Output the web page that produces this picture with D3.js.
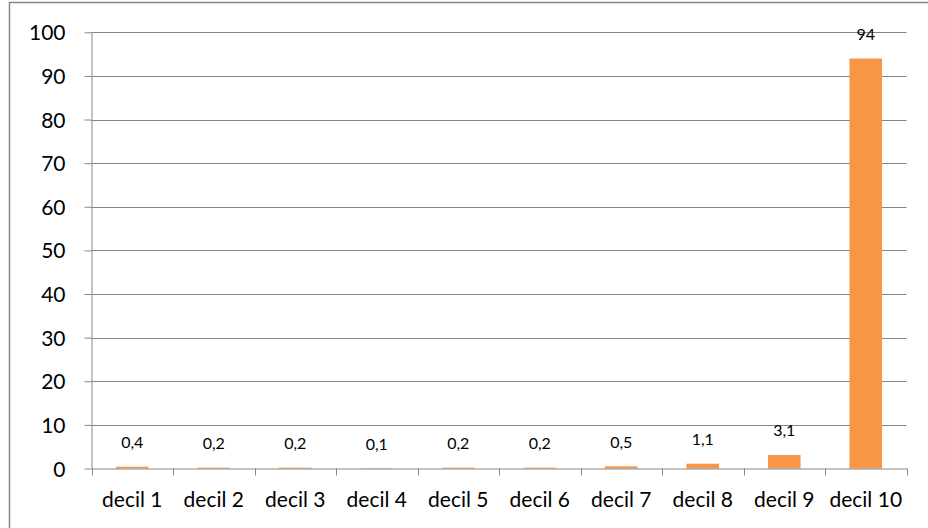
<!DOCTYPE html>
<html>
<head>
<meta charset="utf-8">
<script src="https://cdn.jsdelivr.net/npm/d3@7"></script>
<style>
  html, body { margin: 0; padding: 0; background: #fff; }
  svg { display: block; }
</style>
</head>
<body>
<svg id="chart" width="928" height="528"></svg>
<script>
const categories = ['decil 1', 'decil 2', 'decil 3', 'decil 4', 'decil 5',
                    'decil 6', 'decil 7', 'decil 8', 'decil 9', 'decil 10'];
const values = [0.4, 0.2, 0.2, 0.1, 0.2, 0.2, 0.5, 1.1, 3.1, 94];
const valueLabels = ['0,4', '0,2', '0,2', '0,1', '0,2', '0,2', '0,5', '1,1', '3,1', '94'];
const yTicks = [0, 10, 20, 30, 40, 50, 60, 70, 80, 90, 100];

const FONT = 'Lato, "Open Sans", sans-serif';
const GRID = '#868686';
const BAR = '#F79646';

const PLOT_LEFT = 91.5;
const PLOT_RIGHT = 906.5;
const PLOT_TOP = 32.3;
const PLOT_BOTTOM = 468.5;

const svg = d3.select('#chart');

// outer chart border (right and bottom run off the picture)
svg.append('rect')
    .attr('x', 9.5)
    .attr('y', 2.5)
    .attr('width', 940)
    .attr('height', 560)
    .attr('fill', 'none')
    .attr('stroke', GRID)
    .attr('stroke-width', 1.5);

const x = d3.scaleBand()
    .domain(categories)
    .range([PLOT_LEFT, PLOT_RIGHT])
    .paddingInner(0.6)
    .paddingOuter(0.3);

const xAxisScale = d3.scaleBand()
    .domain(categories)
    .range([PLOT_LEFT, PLOT_RIGHT]);

const y = d3.scaleLinear()
    .domain([0, 100])
    .range([PLOT_BOTTOM, PLOT_TOP]);

// gridlines
svg.append('g')
    .selectAll('line')
    .data(yTicks.filter(d => d > 0))
    .join('line')
    .attr('x1', PLOT_LEFT)
    .attr('x2', PLOT_RIGHT)
    .attr('y1', d => Math.round(y(d)) + 0.5)
    .attr('y2', d => Math.round(y(d)) + 0.5)
    .attr('stroke', GRID)
    .attr('stroke-width', 1);

// bars
svg.append('g')
    .selectAll('rect')
    .data(values)
    .join('rect')
    .attr('x', (d, i) => x(categories[i]))
    .attr('y', d => y(d))
    .attr('width', x.bandwidth())
    .attr('height', d => y(0) - y(d))
    .attr('fill', BAR);

// value labels
svg.append('g')
    .selectAll('text')
    .data(values)
    .join('text')
    .text((d, i) => valueLabels[i])
    .attr('x', (d, i) => x(categories[i]) + x.bandwidth() / 2)
    .attr('y', d => y(d) - 25)
    .attr('text-anchor', 'middle')
    .attr('dominant-baseline', 'central')
    .attr('font-family', FONT)
    .attr('font-size', 16)
    .attr('fill', '#000');

// y axis
const yAxis = svg.append('g')
    .attr('transform', `translate(${PLOT_LEFT},0)`)
    .call(d3.axisLeft(y).tickValues(yTicks).tickSize(7).tickPadding(19).tickSizeOuter(0));
yAxis.select('.domain').attr('stroke', GRID);
yAxis.selectAll('.tick line').attr('stroke', GRID);
yAxis.selectAll('.tick text')
    .attr('font-family', FONT)
    .attr('font-size', 21)
    .attr('fill', '#000')
    .attr('dy', '0.36em');

// x axis
const xAxis = svg.append('g')
    .attr('transform', `translate(0,${PLOT_BOTTOM})`)
    .call(d3.axisBottom(xAxisScale).tickSize(0).tickPadding(24));
xAxis.select('.domain').attr('stroke', GRID);
xAxis.selectAll('.tick text')
    .attr('font-family', FONT)
    .attr('font-size', 21)
    .attr('fill', '#000');

// category boundary ticks
svg.append('g')
    .selectAll('line')
    .data(d3.range(categories.length + 1))
    .join('line')
    .attr('x1', i => Math.round(PLOT_LEFT + i * xAxisScale.step()) + 0.5)
    .attr('x2', i => Math.round(PLOT_LEFT + i * xAxisScale.step()) + 0.5)
    .attr('y1', PLOT_BOTTOM)
    .attr('y2', PLOT_BOTTOM + 7)
    .attr('stroke', GRID);
</script>
</body>
</html>
